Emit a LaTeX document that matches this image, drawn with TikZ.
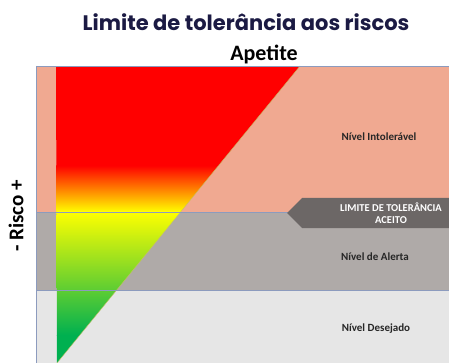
\documentclass[tikz,border=0pt]{standalone}
\usepackage{fontspec}
\setmainfont{Carlito}
\newfontfamily\titlefont{Poppins}
\usetikzlibrary{positioning,calc}
\definecolor{intolcol}{RGB}{240,169,145}
\definecolor{alertacol}{RGB}{175,170,168}
\definecolor{desejcol}{RGB}{230,230,230}
\definecolor{limitcol}{RGB}{108,103,102}
\definecolor{edgecol}{RGB}{140,155,190}
\definecolor{titlecol}{RGB}{27,26,67}
\definecolor{riskgreen}{RGB}{0,176,80}
\tikzstyle{lvl}= [font=\fontsize{11}{12}\selectfont\bfseries, text=black!85]

\begin{document}
\begin{tikzpicture}[x=1pt,y=-1pt]
				\useasboundingbox (0,0) rectangle (449,363);
				% bands
				\fill[intolcol] (36,66) rectangle (449,212);
				\fill[alertacol] (36,212) rectangle (449,290);
				\fill[desejcol] (36,290) rectangle (449,363);
				
				% appetite triangle
				\begin{scope}
					\clip (56,66) -- (300,66) -- (57,363) -- cycle;
					\fill[red] (56,66) rectangle (300,166);
					\shade[top color=red, bottom color=yellow] (56,165.5) rectangle (300,212);
					\shade[top color=yellow, bottom color=riskgreen] (56,211.5) rectangle (300,335);
					\fill[riskgreen] (56,334.5) rectangle (300,363);
				\end{scope}
				\draw[olive!50, line width=0.4pt] (300,66) -- (57,363);
				
				\draw[edgecol, line width=0.8pt] (36,66) -- (449,66);
				\draw[edgecol, line width=0.8pt] (36,212) -- (449,212);
				\draw[edgecol, line width=0.8pt] (36,290) -- (449,290);
				\draw[edgecol, line width=0.8pt] (36,66) -- (36,363);
				
				% tolerance limit marker
				\fill[limitcol] (287,213) -- (302,198) -- (449,198) -- (449,228) -- (302,228) -- cycle;
				\node[align=center, text=white, font=\fontsize{10.5}{12}\selectfont\bfseries] (limite) at (391,213) {LIMITE DE TOLERÂNCIA\\ACEITO};
				
				\node[font=\titlefont\fontsize{21}{23}\selectfont\bfseries, text=titlecol] (titulo) at (246,22) {Limite de tolerância aos riscos};
				\node[font=\fontsize{22}{24}\selectfont\bfseries] (apetite) at (264,54) {Apetite};
				\node[rotate=90, font=\fontsize{21}{24}\selectfont\bfseries] (risco) at (16,216) {- Risco +};
				
				\node[lvl] (intol) at (379,137) {Nível Intolerável};
				\node[lvl] (alerta) at (375,257) {Nível de Alerta};
				\node[lvl] (desej) at (376,329) {Nível Desejado};
			\end{tikzpicture}
\end{document}
